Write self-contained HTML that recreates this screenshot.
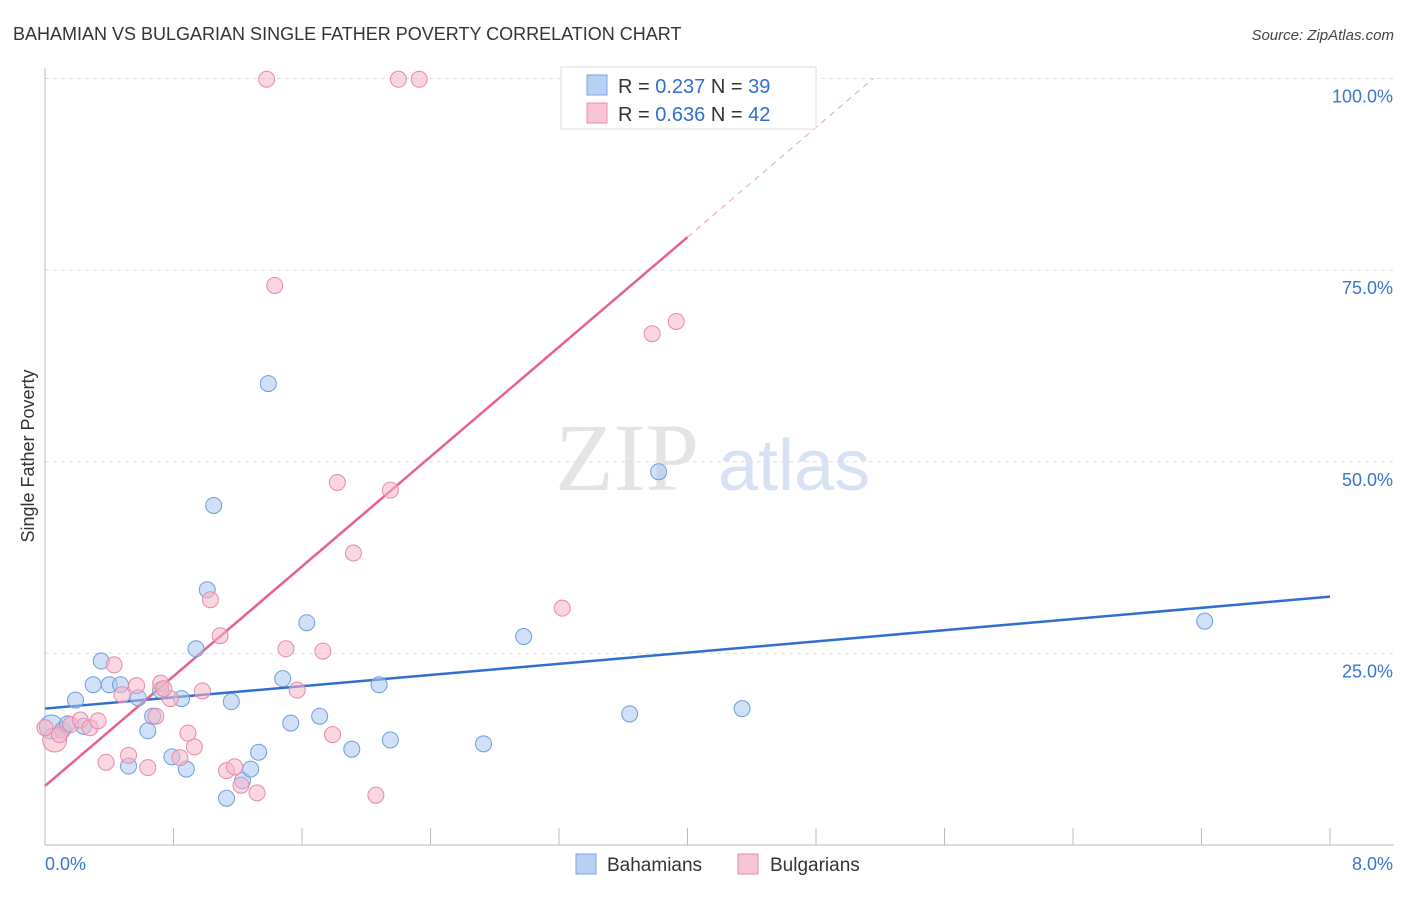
<!DOCTYPE html>
<html><head><meta charset="utf-8"><style>
body{margin:0;background:#fff;font-family:"Liberation Sans",sans-serif;}
</style></head><body>
<svg id="chart" width="1406" height="892" xmlns="http://www.w3.org/2000/svg" style="font-family:'Liberation Sans',sans-serif">
<text x="13" y="40" font-size="18" fill="#333">BAHAMIAN VS BULGARIAN SINGLE FATHER POVERTY CORRELATION CHART</text>
<text x="1394" y="40" font-size="15" fill="#444" text-anchor="end" font-style="italic">Source: ZipAtlas.com</text>
<text x="555" y="490" font-size="96" fill="#e4e4e4" font-family="Liberation Serif">ZIP</text>
<text x="718" y="490" font-size="72" fill="#d6e2f3">atlas</text>
<text transform="translate(34,456) rotate(-90)" font-size="18" fill="#333" text-anchor="middle">Single Father Poverty</text>
<g id="grid"></g><g id="axes"></g><g id="lines"></g><g id="points"></g>
<g>
<rect x="561" y="67" width="255" height="62" fill="#fff" stroke="#ddd"/>
<rect x="587" y="75" width="20" height="20" fill="#b7d0f3" stroke="#7ba4e0"/>
<text x="618" y="93" font-size="20" fill="#333">R = <tspan fill="#2f6fd0">0.237</tspan>   N = <tspan fill="#2f6fd0">39</tspan></text>
<rect x="587" y="103" width="20" height="20" fill="#f8c5d4" stroke="#e890ab"/>
<text x="618" y="121" font-size="20" fill="#333">R = <tspan fill="#2f6fd0">0.636</tspan>   N = <tspan fill="#2f6fd0">42</tspan></text>
</g>
<g>
<rect x="576" y="854" width="20" height="20" fill="#b7d0f3" stroke="#7ba4e0"/>
<text x="607" y="871" font-size="19" fill="#333">Bahamians</text>
<rect x="738" y="854" width="20" height="20" fill="#f8c5d4" stroke="#e890ab"/>
<text x="770" y="871" font-size="19" fill="#333">Bulgarians</text>
</g>
</svg>
<script>
const yTicks=[25,50,75,100];
const yTickLabels=["25.0%","50.0%","75.0%","100.0%"];
const xTicks=[0,0.8,1.6,2.4,3.2,4.0,4.8,5.6,6.4,7.2,8.0];
const bahX=[0.04,0.11,0.14,0.19,0.24,0.30,0.35,0.40,0.47,0.52,0.58,0.64,0.67,0.72,0.79,0.85,0.88,0.94,1.01,1.05,1.13,1.16,1.23,1.28,1.33,1.39,1.48,1.53,1.63,1.71,1.91,2.08,2.15,2.73,2.98,3.64,3.82,4.34,7.22];
const bahY=[15.4,15.0,15.8,18.9,15.5,20.9,24.0,20.9,20.9,10.3,19.2,14.9,16.8,20.2,11.5,19.1,9.9,25.6,33.3,44.3,6.1,18.7,8.4,9.9,12.1,60.2,21.7,15.9,29.0,16.8,12.5,20.9,13.7,13.2,27.2,17.1,48.7,17.8,29.2];
const bulX=[0.06,0.0,0.09,0.16,0.22,0.28,0.33,0.38,0.43,0.48,0.52,0.57,0.64,0.69,0.72,0.78,0.84,0.89,0.93,0.98,1.03,1.09,1.13,1.18,1.22,1.32,1.38,1.43,1.50,1.57,1.73,1.79,1.82,1.92,2.06,2.15,2.20,2.33,3.22,3.78,3.93,0.74];
const bulY=[13.7,15.3,14.4,15.7,16.3,15.3,16.2,10.8,23.5,19.6,11.7,20.8,10.1,16.8,21.1,19.1,11.4,14.6,12.8,20.1,32.0,27.3,9.7,10.2,7.8,6.8,99.9,73.0,25.6,20.2,25.3,14.4,47.3,38.1,6.5,46.3,99.9,99.9,30.9,66.7,68.3,20.4];
const bahTrend=[17.8,32.4];
const bulTrend=[7.7,17.9];
const NS="http://www.w3.org/2000/svg";
const xs=v=>45+v*(1285/8), ys=v=>845-v*7.665;
function mk(p,t,a){const e=document.createElementNS(NS,t);for(const k in a)e.setAttribute(k,a[k]);document.getElementById(p).appendChild(e);return e;}
yTicks.forEach((t,i)=>{
 const l=mk('grid','line',{x1:45,x2:1394,y1:ys(t),y2:ys(t),stroke:'#ddd','stroke-dasharray':'4,4'});
 
 
 const tx=mk('axes','text',{x:1393,y:ys(t)+24,'font-size':18,fill:'#3a75d0','text-anchor':'end'});
 tx.textContent=yTickLabels[i];
 
 
});
const ax=mk('axes','line',{x1:45,x2:1394,y1:845,y2:845,stroke:'#bbb'});


const ay=mk('axes','line',{x1:45,x2:45,y1:68,y2:845,stroke:'#bbb'});


xTicks.forEach(t=>{const l=mk('axes','line',{x1:xs(t),x2:xs(t),y1:828,y2:845,stroke:'#bbb'});
 
 });
const x0=mk('axes','text',{x:45,y:870,'font-size':18,fill:'#3a75d0'});x0.textContent='0.0%';


const x1=mk('axes','text',{x:1393,y:870,'font-size':18,fill:'#3a75d0','text-anchor':'end'});x1.textContent='8.0%';


function pts(X,Y,fill,stroke,name){X.forEach((x,i)=>{const c=mk('points','circle',{cx:xs(x),cy:ys(Y[i]),r:i==0?12:8,fill:fill,'fill-opacity':0.55,stroke:stroke,'stroke-width':1});
 
 });}
pts(bahX,bahY,'#a9c6ee','#6f9de0','bahamian-point');
pts(bulX,bulY,'#f5b5c8','#e78aa8','bulgarian-point');
const bl=mk('lines','line',{x1:xs(0),y1:ys(bahTrend[0]),x2:xs(8),y2:ys(bahTrend[1]),stroke:'#2f6fd0','stroke-width':2.5});


const xe=(100-bulTrend[0])/bulTrend[1];
const pl=mk('lines','line',{x1:xs(0),y1:ys(bulTrend[0]),x2:xs(4),y2:ys(bulTrend[0]+4*bulTrend[1]),stroke:'#e8608c','stroke-width':2.5});


const pd=mk('lines','line',{x1:xs(4),y1:ys(bulTrend[0]+4*bulTrend[1]),x2:xs(xe),y2:ys(100),stroke:'#e8a0b6','stroke-width':1,'stroke-dasharray':'6,5'});


</script>
</body></html>
